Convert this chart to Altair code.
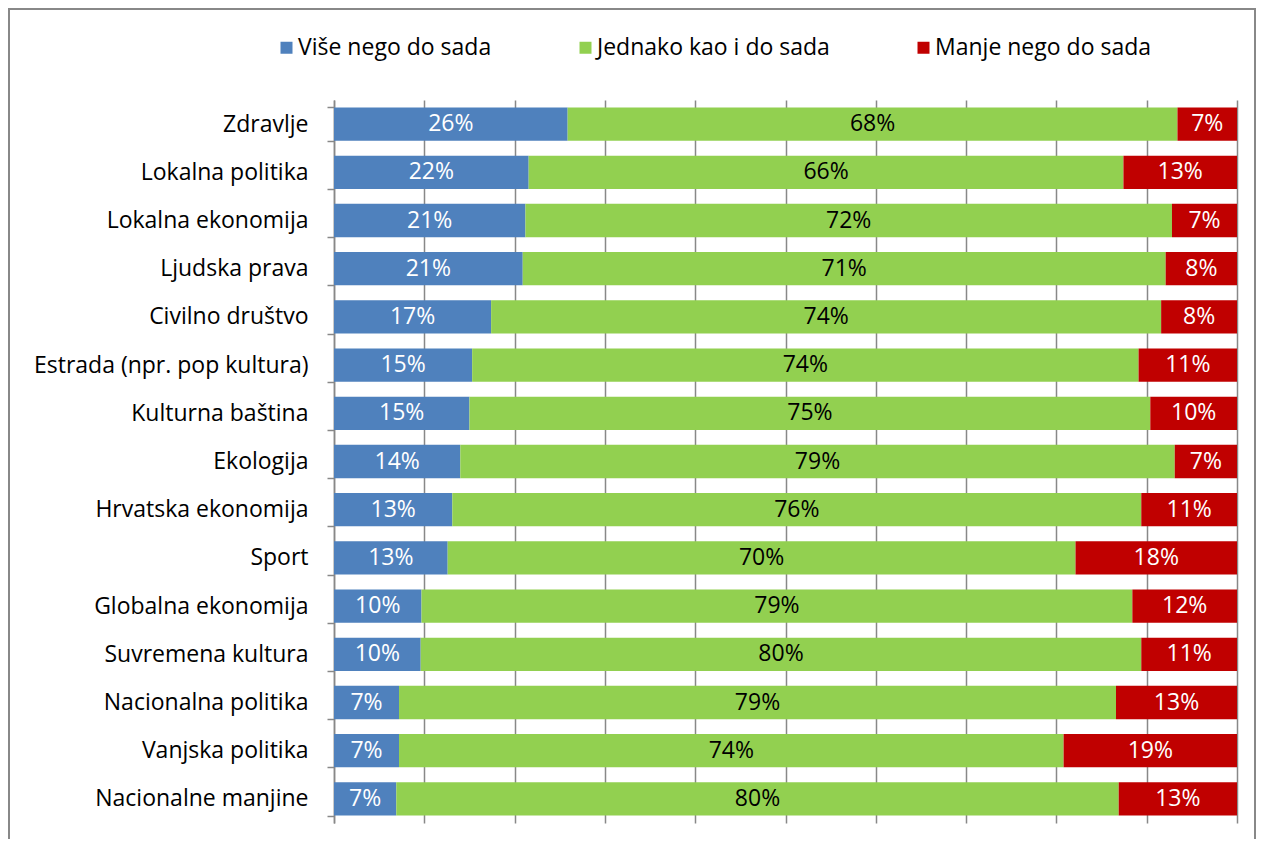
import altair as alt
import pandas as pd

categories = [
    "Zdravlje", "Lokalna politika", "Lokalna ekonomija", "Ljudska prava\u00a0",
    "Civilno društvo\u00a0", "Estrada (npr. pop kultura)", "Kulturna baština",
    "Ekologija", "Hrvatska ekonomija", "Sport", "Globalna ekonomija",
    "Suvremena kultura", "Nacionalna politika", "Vanjska politika",
    "Nacionalne manjine",
]
series = ["Više nego do sada", "Jednako kao i do sada", "Manje nego do sada"]
vise = [25.9, 21.6, 21.2, 20.9, 17.4, 15.3, 15.0, 14.0, 13.1, 12.6, 9.7, 9.6, 7.2, 7.2, 6.9]
jednako = [67.6, 66.0, 71.6, 71.2, 74.2, 73.8, 75.4, 79.2, 76.3, 69.6, 78.8, 79.8, 79.4, 73.6, 80.0]
manje = [6.6, 12.6, 7.2, 7.9, 8.4, 10.9, 9.6, 6.9, 10.6, 17.9, 11.6, 10.6, 13.4, 19.2, 13.1]
colors = ["#4F81BD", "#92D050", "#C00000"]
text_colors = ["white", "black", "white"]

rows = []
for i, c in enumerate(categories):
    for j, (s, vals) in enumerate(zip(series, [vise, jednako, manje])):
        rows.append({"kategorija": c, "serija": s, "idx": j, "value": vals[i],
                     "tc": text_colors[j]})
df = pd.DataFrame(rows)

FONT = "Open Sans"
FS = 23

base = alt.Chart(df).transform_stack(
    stack="value", groupby=["kategorija"], as_=["x0", "x1"],
    offset="normalize", sort=[alt.SortField("idx")]
).transform_calculate(
    mid="(datum.x0 + datum.x1) / 2",
    label="format(datum.value, '.0f') + '%'"
)

yenc = alt.Y("kategorija:N", sort=categories, title=None,
             scale=alt.Scale(paddingInner=0.31, paddingOuter=0.155),
             axis=alt.Axis(domainColor="#888888", domainWidth=1.5,
                           tickColor="#888888", tickWidth=1.5, tickSize=7,
                           tickBand="extent", labelFontSize=FS, labelFont=FONT,
                           labelColor="black", labelPadding=19, labelLimit=400,
                           grid=False))

bars = base.mark_bar().encode(
    x=alt.X("x0:Q", title=None, scale=alt.Scale(domain=[0, 1]),
            axis=alt.Axis(values=[i / 10 for i in range(11)], grid=True,
                          gridColor="#888888", gridWidth=1.5, labels=False,
                          ticks=False, domain=False)),
    x2="x1:Q",
    y=yenc,
    color=alt.Color("serija:N", sort=series, title=None,
                    scale=alt.Scale(domain=series, range=colors),
                    legend=alt.Legend(orient="none", legendX=-59, legendY=-64,
                                      padding=0,
                                      direction="horizontal", symbolType="square",
                                      symbolSize=144, symbolStrokeWidth=0,
                                      labelFontSize=FS, labelFont=FONT,
                                      labelColor="black", labelLimit=400,
                                      labelOffset=0, columnPadding=82)),
)

texts = base.mark_text(fontSize=FS, font=FONT).encode(
    x=alt.X("mid:Q"),
    y=alt.Y("kategorija:N", sort=categories),
    text="label:N",
    color=alt.Color("tc:N", scale=None),
)

frame = alt.Chart(pd.DataFrame({"a": [0]})).mark_rect(
    fill=None, stroke="#888888", strokeWidth=2
).encode(x=alt.value(-325), x2=alt.value(921), y=alt.value(-91), y2=alt.value(800))

chart = alt.layer(frame, bars, texts).properties(
    width=903, height=723,
    padding={"left": 326, "top": 92, "right": 21, "bottom": 16},
    autosize="none",
).configure_view(stroke=None)

chart.save("out.html", embed_options={"renderer": "svg", "actions": False})
